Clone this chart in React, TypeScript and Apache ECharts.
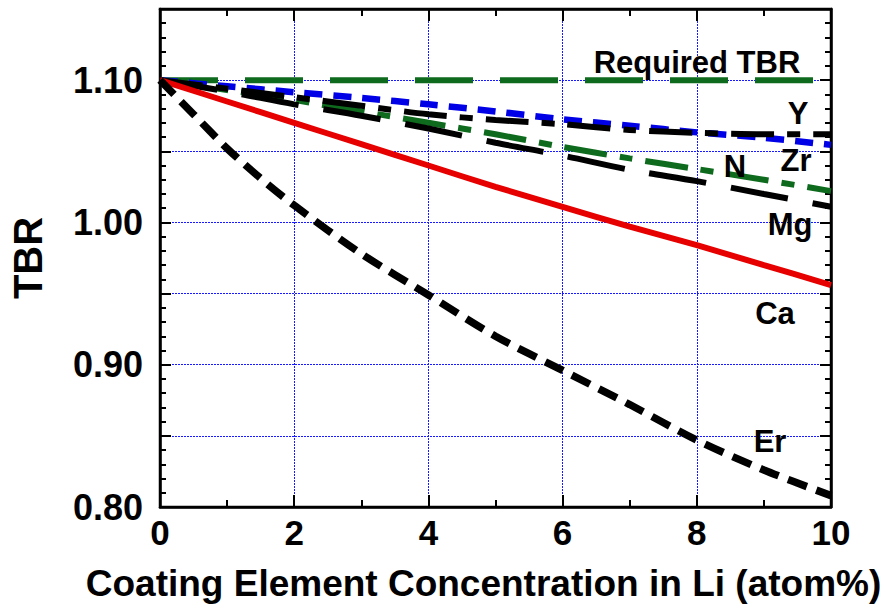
import React, { useEffect, useRef } from "react";
import * as echarts from "echarts";

const xs = [0, 1, 2, 3, 4, 5, 6, 7, 8, 9, 10];
const requiredX = [0, 10];
const requiredTBR = [1.1, 1.1];
const zrTBR = [1.1, 1.0957, 1.0915, 1.0875, 1.083, 1.078, 1.0725, 1.068, 1.0633, 1.0595, 1.0545];
const yTBR = [1.1, 1.094, 1.088, 1.082, 1.076, 1.072, 1.069, 1.065, 1.063, 1.062, 1.062];
const nTBR = [1.1, 1.093, 1.086, 1.078, 1.07, 1.062, 1.053, 1.045, 1.0375, 1.03, 1.022];
const mgTBR = [1.1, 1.092, 1.083, 1.075, 1.066, 1.056, 1.047, 1.037, 1.029, 1.02, 1.011];
const caTBR = [1.1, 1.085, 1.07, 1.055, 1.04, 1.025, 1.011, 0.997, 0.984, 0.97, 0.956];
const erX = [0, 0.5, 1, 1.5, 2, 3, 4, 5, 6, 7, 8, 9, 10];
const erTBR = [1.1, 1.076, 1.052, 1.031, 1.012, 0.978, 0.949, 0.92, 0.896, 0.872, 0.847, 0.826, 0.808];

const yTickLabels = ["0.80", "0.90", "1.00", "1.10"];

const GREEN = "#0e6b1e";
const BLUE = "#0000e6";
const GRID_BLUE = "#1a1aff";
const RED = "#e60000";
const FONT = '"Liberation Sans", Arial, sans-serif';

const pair = (x: number[], y: number[]) => x.map((v, i) => [v, y[i]]);

export default function App() {
  const ref = useRef<HTMLDivElement>(null);
  useEffect(() => {
    if (!ref.current) return;
    const chart = echarts.init(ref.current, undefined, { renderer: "svg" });
    const tickStyle = { color: "#000", width: 2 };
    const line = (
      name: string,
      data: number[][],
      color: string,
      width: number,
      dash: number[] | "solid",
      smooth = 0.3
    ) => ({
      name,
      type: "line",
      data,
      smooth,
      symbol: "none",
      lineStyle: { color, width, type: dash, cap: "butt" },
      z: 3,
    });
    const label = (text: string, x: number, y: number) => ({
      type: "text",
      x,
      y,
      z: 100,
      style: {
        text,
        fill: "#000",
        font: `bold 31px ${FONT}`,
        align: "center",
        verticalAlign: "middle",
      },
    });
    const gridLine = { show: true, lineStyle: { color: GRID_BLUE, width: 1, type: [2, 1] } };
    chart.setOption({
      animation: false,
      backgroundColor: "#fff",
      grid: {
        left: 159,
        right: 62,
        top: 9,
        bottom: 98,
        show: true,
        borderColor: "#000",
        borderWidth: 2.5,
        backgroundColor: "transparent",
      },
      xAxis: [
        {
          type: "value",
          min: 0,
          max: 10,
          interval: 2,
          position: "bottom",
          name: "Coating Element Concentration in Li (atom%)",
          nameLocation: "middle",
          nameGap: 58,
          nameTextStyle: {
            fontFamily: FONT,
            fontWeight: "bold",
            fontSize: 37,
            color: "#000",
            padding: [0, 24, 0, 0],
          },
          axisLine: { show: true, onZero: false, lineStyle: { color: "#000", width: 2.5 } },
          axisTick: { show: true, inside: true, length: 12, lineStyle: tickStyle },
          minorTick: { show: true, splitNumber: 2, length: 7, lineStyle: tickStyle },
          axisLabel: {
            margin: 8,
            fontFamily: FONT,
            fontWeight: "bold",
            fontSize: 35,
            color: "#000",
          },
          splitLine: gridLine,
        },
        {
          type: "value",
          min: 0,
          max: 10,
          interval: 2,
          position: "top",
          axisLine: { show: true, onZero: false, lineStyle: { color: "#000", width: 2.5 } },
          axisTick: { show: true, inside: true, length: 12, lineStyle: tickStyle },
          minorTick: { show: true, splitNumber: 2, length: 7, lineStyle: tickStyle },
          axisLabel: { show: false },
          splitLine: { show: false },
        },
      ],
      yAxis: [
        {
          type: "value",
          min: 0.8,
          max: 1.15,
          interval: 0.05,
          position: "left",
          name: "TBR",
          nameLocation: "middle",
          nameRotate: 90,
          nameGap: 112,
          nameTextStyle: {
            fontFamily: FONT,
            fontWeight: "bold",
            fontSize: 40,
            color: "#000",
          },
          axisLine: { show: true, onZero: false, lineStyle: { color: "#000", width: 2.5 } },
          axisTick: { show: true, inside: true, length: 11, lineStyle: tickStyle },
          minorTick: { show: true, splitNumber: 5, length: 6, lineStyle: tickStyle },
          axisLabel: {
            margin: 17,
            fontFamily: FONT,
            fontWeight: "bold",
            fontSize: 36,
            color: "#000",
            formatter: (v: number) => {
              const s = v.toFixed(2);
              return yTickLabels.includes(s) ? s : "";
            },
          },
          splitLine: gridLine,
        },
        {
          type: "value",
          min: 0.8,
          max: 1.15,
          interval: 0.05,
          position: "right",
          axisLine: { show: true, onZero: false, lineStyle: { color: "#000", width: 2.5 } },
          axisTick: { show: true, inside: true, length: 11, lineStyle: tickStyle },
          minorTick: { show: true, splitNumber: 5, length: 6, lineStyle: tickStyle },
          axisLabel: { show: false },
          splitLine: { show: false },
        },
      ],
      series: [
        line("Required TBR", pair(requiredX, requiredTBR), GREEN, 6, [58, 27], 0),
        line("Zr", pair(xs, zrTBR), BLUE, 6.5, [18, 11]),
        line("N", pair(xs, nTBR), GREEN, 6, [43, 13, 13, 13]),
        line("Y", pair(xs, yTBR), "#000", 6, [43, 13, 13, 13]),
        line("Mg", pair(xs, mgTBR), "#000", 6, [58, 25]),
        line("Ca", pair(xs, caTBR), RED, 6, "solid"),
        line("Er", pair(erX, erTBR), "#000", 7.5, [20, 10]),
      ],
      graphic: [
        label("Required TBR", 697, 62),
        label("Y", 798, 113),
        label("Zr", 796, 160),
        label("N", 735, 166),
        label("Mg", 790, 224),
        label("Ca", 775, 313),
        label("Er", 770, 441),
      ],
    });
    return () => chart.dispose();
  }, []);
  return (
    <div
      ref={ref}
      style={{ position: "fixed", left: 0, top: 0, width: 893, height: 607 }}
    />
  );
}
